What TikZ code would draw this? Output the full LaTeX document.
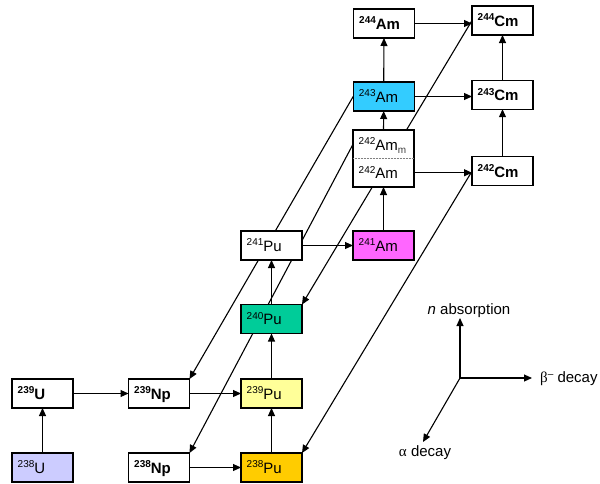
\documentclass[tikz,border=0pt]{standalone}
\usepackage{fontspec}
\setmainfont{Liberation Sans}
\newfontfamily\grk{Liberation Serif}
\usetikzlibrary{arrows.meta,backgrounds}
\definecolor{cU}{HTML}{CCCCFF}
\definecolor{cPuA}{HTML}{FFFF99}
\definecolor{cPuB}{HTML}{FFCC00}
\definecolor{cPuC}{HTML}{00CC99}
\definecolor{cAmA}{HTML}{FF66FF}
\definecolor{cAmB}{HTML}{33CCFF}
\newcommand\nuc[2]{\raisebox{5.5pt}{\fontsize{10}{10}\selectfont#1}#2}
\begin{document}
\begin{tikzpicture}[x=1pt,y=-1pt,
  box/.style={draw=black,line width=1.1pt,fill=white,minimum width=61pt,minimum height=29pt,inner sep=0pt,outer sep=0pt},
  lbl/.style={anchor=base west,inner sep=0pt,font=\fontsize{15}{18}\selectfont},
  blbl/.style={anchor=base west,inner sep=0pt,font=\fontsize{15}{18}\selectfont\bfseries},
  leg/.style={inner sep=0pt,font=\fontsize{15}{18}\selectfont},
  arr/.style={line width=1.1pt,-{Triangle[length=8pt,width=7pt]}}]
\useasboundingbox (0,0) rectangle (600,483);

% boxes
\node[box,fill=cU] (U238) at (42.5,467.5) {};
\node[box] (U239) at (42.5,393.5) {};
\node[box] (Np239) at (159,393.5) {};
\node[box] (Np238) at (159,467.5) {};
\node[box,fill=cPuA] (Pu239) at (271.5,393.5) {};
\node[box,fill=cPuB] (Pu238) at (271.5,467.5) {};
\node[box,fill=cPuC] (Pu240) at (271.5,319) {};
\node[box] (Pu241) at (271.5,245.5) {};
\node[box,fill=cAmA] (Am241) at (383.5,245.5) {};
\node[box,minimum height=57pt] (Am242) at (383.5,158.5) {};
\node[box,fill=cAmB] (Am243) at (383.7,96.5) {};
\node[box] (Am244) at (384,23.5) {};
\node[box] (Cm244) at (502.5,20.5) {};
\node[box] (Cm243) at (502.5,94.7) {};
\node[box] (Cm242) at (502.5,171.2) {};
\draw[densely dotted,line width=0.5pt,gray] (Am242.west) -- (Am242.east);
\coordinate (Am242m) at ([yshift=14.25pt]Am242.west);
\coordinate (Am242g) at ([yshift=-14.25pt]Am242.west);
\coordinate (Am242ge) at ([yshift=-14.25pt]Am242.east);

% labels
\node[lbl] (tU238) at ([xshift=5.5pt,yshift=-5.8pt]U238.west) {\nuc{238}{U}};
\node[blbl] (tU239) at ([xshift=5.5pt,yshift=-5.8pt]U239.west) {\nuc{239}{U}};
\node[blbl] (tNp239) at ([xshift=5.5pt,yshift=-5.8pt]Np239.west) {\nuc{239}{Np}};
\node[blbl] (tNp238) at ([xshift=5.5pt,yshift=-5.8pt]Np238.west) {\nuc{238}{Np}};
\node[lbl] (tPu239) at ([xshift=5.5pt,yshift=-5.8pt]Pu239.west) {\nuc{239}{Pu}};
\node[lbl] (tPu238) at ([xshift=5.5pt,yshift=-5.8pt]Pu238.west) {\nuc{238}{Pu}};
\node[lbl] (tPu240) at ([xshift=5.5pt,yshift=-5.8pt]Pu240.west) {\nuc{240}{Pu}};
\node[lbl] (tPu241) at ([xshift=5.5pt,yshift=-5.8pt]Pu241.west) {\nuc{241}{Pu}};
\node[lbl] (tAm241) at ([xshift=5.5pt,yshift=-5.8pt]Am241.west) {\nuc{241}{Am}};
\node[lbl] (tAm242m) at ([xshift=5.5pt,yshift=-5.8pt]Am242m) {\nuc{242}{Am}\raisebox{-3pt}{\fontsize{10}{10}\selectfont\color{black!75}m}};
\node[lbl] (tAm242) at ([xshift=5.5pt,yshift=-5.8pt]Am242g) {\nuc{242}{Am}};
\node[lbl] (tAm243) at ([xshift=5.5pt,yshift=-5.8pt]Am243.west) {\nuc{243}{Am}};
\node[blbl] (tAm244) at ([xshift=5.5pt,yshift=-5.8pt]Am244.west) {\nuc{244}{Am}};
\node[blbl] (tCm244) at ([xshift=5.5pt,yshift=-5.8pt]Cm244.west) {\nuc{244}{Cm}};
\node[blbl] (tCm243) at ([xshift=5.5pt,yshift=-5.8pt]Cm243.west) {\nuc{243}{Cm}};
\node[blbl] (tCm242) at ([xshift=5.5pt,yshift=-5.8pt]Cm242.west) {\nuc{242}{Cm}};

% alpha decays (behind boxes)
\begin{scope}[on background layer]
\draw[arr] (Cm244.west) -- (Pu240.north east);
\draw[arr] (Am243.west) -- (Np239.north east);
\draw[arr] (Am242m) -- (Np238.north east);
\draw[arr] (Cm242.west) -- (Pu238.north east);
\end{scope}

% n absorption and beta decays
\draw[arr] (U238.north) -- (U239.south);
\draw[arr] (U239.east) -- (Np239.west);
\draw[arr] (Np239.east) -- (Pu239.west);
\draw[arr] (Np238.east) -- (Pu238.west);
\draw[arr] (Pu238.north) -- (Pu239.south);
\draw[arr] (Pu239.north) -- (Pu240.south);
\draw[arr] (Pu240.north) -- (Pu241.south);
\draw[arr] (Pu241.east) -- (Am241.west);
\draw[arr] (Am241.north) -- (Am242.south);
\draw[arr] (Am242.north) -- (Am243.south);
\draw[arr] (Am243.north) -- (Am244.south);
\draw[arr] (Am244.east) -- (Am244.east -| Cm244.west);
\draw[arr] (Am243.east) -- (Am243.east -| Cm243.west);
\draw[arr] (Am242ge) -- (Am242ge -| Cm242.west);
\draw[arr] (Cm242.north) -- (Cm243.south);
\draw[arr] (Cm243.north) -- (Cm244.south);

% legend
\coordinate (O) at (460,378);
\coordinate (nup) at (460,318);
\coordinate (bright) at (532,378);
\coordinate (adown) at (423,442);
\draw[arr] (O) -- (nup);
\draw[arr] (O) -- (bright);
\draw[arr] (O) -- (adown);
\node[leg] (lnabs) at (469,311) {\textit{n} absorption};
\node[leg,anchor=west] (lbeta) at (540,379) {{\grk β}\raisebox{5pt}{\fontsize{10}{10}\selectfont –} decay};
\node[leg] (lalpha) at (425,453) {{\grk α} decay};
\end{tikzpicture}
\end{document}
